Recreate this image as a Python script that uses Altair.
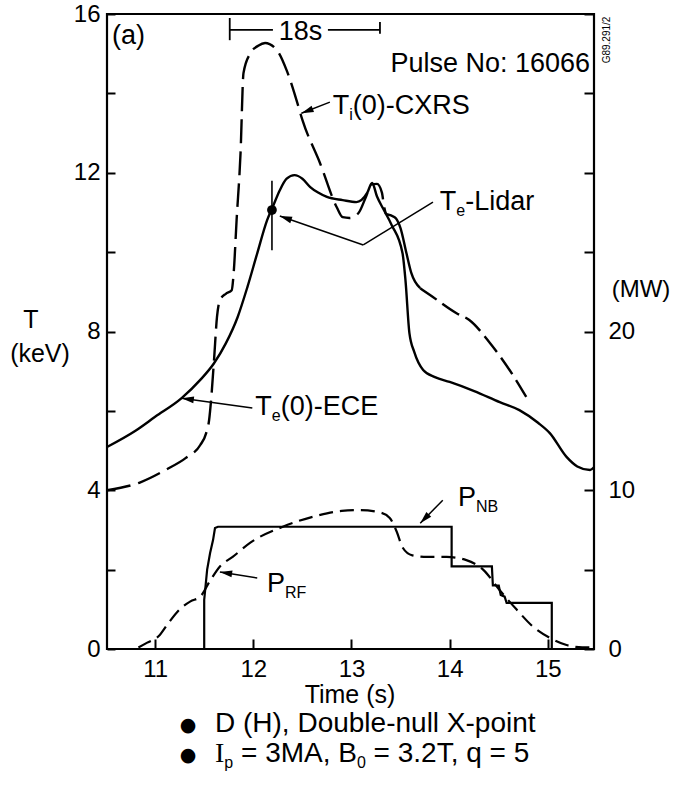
import math
import altair as alt
import pandas as pd

FONT = "Liberation Sans"

# ---------------- data ----------------
# Ti(0)-CXRS  [keV]
ti_t = [10.51, 10.85, 11.12, 11.31, 11.46, 11.52, 11.55, 11.57, 11.60, 11.63, 11.66, 11.72, 11.78, 11.80,
        11.83, 11.87, 11.90, 11.97, 12.05, 12.12, 12.24, 12.34, 12.44, 12.50, 12.68, 12.85, 12.91, 12.98,
        13.07, 13.15, 13.20, 13.26, 13.31, 13.33, 13.35, 13.44, 13.50, 13.56, 13.61, 13.70, 13.80, 14.07,
        14.20, 14.41, 14.61, 14.78]
ti_T = [4.00, 4.20, 4.53, 4.81, 5.14, 5.44, 5.77, 6.27, 7.28, 8.36, 8.79, 8.95, 9.04, 9.47,
        10.81, 12.49, 14.51, 15.01, 15.20, 15.27, 15.09, 14.58, 13.83, 13.33, 12.24, 11.13, 10.88, 10.86,
        10.98, 11.41, 11.70, 11.72, 11.50, 11.18, 10.96, 10.88, 10.60, 9.97, 9.47, 9.09, 8.92, 8.46,
        8.29, 7.71, 7.03, 6.35]

# Te(0)-ECE  [keV]
te_t = [10.51, 10.80, 11.00, 11.27, 11.46, 11.60, 11.72, 11.84, 11.94, 12.04, 12.14, 12.20, 12.27, 12.34,
        12.42, 12.50, 12.58, 12.66, 12.75, 12.91, 13.05, 13.16, 13.21, 13.26, 13.33, 13.41, 13.52, 13.55,
        13.59, 13.64, 13.73, 13.85, 14.00, 14.25, 14.51, 14.71, 14.90, 15.02, 15.19, 15.30, 15.43, 15.47]
te_T = [5.09, 5.50, 5.85, 6.32, 6.78, 7.20, 7.70, 8.36, 9.12, 9.97, 10.80, 11.15, 11.56, 11.85,
        11.94, 11.85, 11.64, 11.50, 11.39, 11.31, 11.26, 11.49, 11.74, 11.40, 11.06, 10.68, 9.97, 9.29,
        7.96, 7.48, 7.03, 6.85, 6.73, 6.50, 6.22, 6.02, 5.70, 5.44, 4.84, 4.60, 4.51, 4.58]

# Te-Lidar point with error bar [keV]
lidar_t = [12.19]
lidar_T = [11.06]
lidar_lo = [10.05]
lidar_hi = [11.80]

# P_NB [MW]
nb_t = [11.50, 11.50, 11.53, 11.56, 11.59, 11.61, 11.64, 14.02, 14.02, 14.43, 14.44, 14.50, 14.52,
        14.56, 14.58, 15.04, 15.04]
nb_P = [0.0, 3.1, 5.0, 6.05, 6.86, 7.62, 7.7, 7.7, 5.2, 5.2, 4.0, 4.0, 3.4, 3.3, 2.9, 2.9, 0.0]

# P_RF [MW]
rf_t = [10.83, 10.92, 11.05, 11.12, 11.25, 11.36, 11.46, 11.56, 11.66, 11.79, 11.97, 12.30, 12.65,
        12.90, 13.09, 13.29, 13.39, 13.46, 13.52, 13.62, 13.77, 13.97, 14.17, 14.34, 14.51, 14.68,
        14.85, 15.02, 15.19, 15.35, 15.47]
rf_P = [0.1, 0.4, 0.9, 1.5, 2.5, 3.0, 3.3, 4.3, 5.2, 5.8, 6.7, 7.7, 8.4, 8.7, 8.75, 8.6, 8.25, 7.4,
        6.4, 5.9, 5.8, 5.8, 5.6, 5.0, 3.7, 2.5, 1.4, 0.7, 0.25, 0.1, 0.1]

# axis ticks / labels
x_ticks = [11, 12, 13, 14, 15]
t_ticks = [0, 2, 4, 6, 8, 10, 12, 14, 16]     # labelled every 4 keV
mw_ticks = [0, 5, 10, 15, 20, 25, 30, 35, 40]  # labelled 0, 10, 20

# arrows (tail -> tip) in (s, keV)
arrow_t1 = [12.78, 13.12, 11.99, 13.93, 12.04]
arrow_T1 = [13.78, 10.18, 6.07, 3.75, 1.79]
arrow_t2 = [12.49, 12.27, 11.27, 13.70, 11.66]
arrow_T2 = [13.50, 10.91, 6.32, 3.17, 1.94]
# plain leader line of the Te-Lidar label
lead_t1, lead_T1, lead_t2, lead_T2 = [13.83], [11.26], [13.12], [10.18]

# "18s" scale bar
bar_t1 = [11.76, 12.76]
bar_t2 = [12.20, 13.29]
bar_T = [15.6, 15.6]
cap_t = [11.76, 13.29]
cap_lo = [15.34, 15.50]
cap_hi = [15.90, 15.80]

# ---------------- geometry ----------------
X0, X1 = 10.51, 15.47
W, H = 487, 635
KX = W / (X1 - X0)
KY = H / 16.0

xs = alt.Scale(domain=[X0, X1], nice=False, zero=False)
ys = alt.Scale(domain=[0, 16], nice=False)
ps = alt.Scale(domain=[0, 40], nice=False)

WID = {' ': 278, '(': 333, ')': 333, ',': 278, '-': 333, '.': 278, '/': 278, ':': 278,
       '=': 584, 'A': 667, 'B': 667, 'C': 722, 'D': 722, 'E': 667, 'F': 611, 'H': 722, 'I': 278,
       'L': 556, 'M': 833, 'N': 722, 'P': 667, 'R': 722, 'S': 667, 'T': 611, 'X': 667, 'a': 556,
       'b': 556, 'd': 556, 'e': 556, 'i': 222, 'k': 500, 'l': 222, 'm': 833, 'n': 556, 'o': 556,
       'p': 556, 'q': 556, 'r': 333, 's': 500, 't': 278, 'u': 556}


def tw(s, fs):
    return sum(WID.get(c, 556) for c in s) * fs / 1000.0


def X(f='x'):
    return alt.X(f + ':Q', scale=xs, title=None)


def Y(f='y'):
    return alt.Y(f + ':Q', scale=ys, title=None)


def P(f='y'):
    return alt.Y(f + ':Q', scale=ps, title=None)


def rich(parts, x, y, fs=27, sfs=16, data=True, align='left'):
    layers = []
    dx = 0.0
    for p in parts:
        text, kind = p[0], p[1]
        font = p[2] if len(p) > 2 else FONT
        size = fs if kind == 'n' else sfs
        dy = 0 if kind == 'n' else 6
        lead = len(text) - len(text.lstrip(' '))
        dx += lead * 278 * size / 1000.0
        body = text.lstrip(' ')
        c = alt.Chart(pd.DataFrame({'x': [x], 'y': [y], 's': [body]})).mark_text(
            align=align, baseline='alphabetic', dx=round(dx, 1), dy=dy,
            fontSize=size, font=font, color='black')
        if data:
            c = c.encode(x=X(), y=Y(), text='s:N')
        else:
            c = c.encode(x=alt.value(x), y=alt.value(y), text='s:N')
        layers.append(c)
        w = tw(body, size)
        if font != FONT:
            w = 333 * size / 1000.0 * len(body)
        dx += w
    return layers


# ---------------- left (keV) layers ----------------
# axes are pulled inside the frame (negative offset) so that their ticks point inwards
te_df = pd.DataFrame({'x': te_t, 'y': te_T})
te_line = alt.Chart(te_df).mark_line(color='black', strokeWidth=2.4, interpolate='monotone').encode(
    x=alt.X('x:Q', scale=xs, title=None, axis=alt.Axis(
        values=x_ticks, ticks=True, tickSize=10, tickWidth=2, tickColor='black', offset=-10,
        domain=False, grid=False, labelFontSize=24, labelPadding=8, labelFlush=False, format='d')),
    y=alt.Y('y:Q', scale=ys, title=None, axis=alt.Axis(
        values=t_ticks, ticks=True, tickSize=8, tickWidth=2, tickColor='black', offset=-8,
        labelExpr="datum.value % 4 === 0 ? datum.label : ''",
        domain=False, grid=False, labelFontSize=24, labelPadding=7, format='d')),
    order=alt.Order('x:Q'))

ti_df = pd.DataFrame({'x': ti_t, 'y': ti_T})
ia = ti_t.index(13.35)
ib = ti_t.index(13.70)
ti_a = alt.Chart(ti_df.iloc[:ia + 1]).mark_line(
    color='black', strokeWidth=2.4, strokeDash=[24, 8], interpolate='monotone').encode(x=X(), y=Y())
ti_b = alt.Chart(ti_df.iloc[ia:ib + 1]).mark_line(
    color='black', strokeWidth=2.4, interpolate='monotone').encode(x=X(), y=Y())
ti_c = alt.Chart(ti_df.iloc[ib:]).mark_line(
    color='black', strokeWidth=2.4, strokeDash=[20, 7], interpolate='monotone').encode(x=X(), y=Y())

lid_df = pd.DataFrame({'x': lidar_t, 'y': lidar_T, 'lo': lidar_lo, 'hi': lidar_hi})
lid_bar = alt.Chart(lid_df).mark_rule(color='black', strokeWidth=1.6).encode(
    x=X(), y=Y('lo'), y2='hi:Q')
lid_dot = alt.Chart(lid_df).mark_point(filled=True, color='black', size=95, opacity=1).encode(
    x=X(), y=Y())

# 18 s bar
bar_df = pd.DataFrame({'x': bar_t1, 'x2': bar_t2, 'y': bar_T})
bar_h = alt.Chart(bar_df).mark_rule(color='black', strokeWidth=1.8).encode(x=X(), x2='x2:Q', y=Y())
cap_df = pd.DataFrame({'x': cap_t, 'lo': cap_lo, 'hi': cap_hi})
bar_v = alt.Chart(cap_df).mark_rule(color='black', strokeWidth=1.8).encode(x=X(), y=Y('lo'), y2='hi:Q')

# arrows
ang = [(math.degrees(math.atan2(-(b2 - b1) * KY, (a2 - a1) * KX)) + 360) % 360
       for a1, b1, a2, b2 in zip(arrow_t1, arrow_T1, arrow_t2, arrow_T2)]
arr_df = pd.DataFrame({'x': arrow_t1, 'y': arrow_T1, 'x2': arrow_t2, 'y2': arrow_T2, 'ang': ang})
shafts = alt.Chart(arr_df).mark_rule(color='black', strokeWidth=1.5).encode(
    x=X(), y=Y(), x2='x2:Q', y2='y2:Q')
heads = alt.Chart(arr_df).mark_point(
    shape='M0,0L-2,-0.55L-2,0.55Z', filled=True, color='black', size=150, opacity=1, strokeWidth=0
).encode(x=X('x2'), y=Y('y2'), angle=alt.Angle('ang:Q', scale=None))
lead_df = pd.DataFrame({'x': lead_t1, 'y': lead_T1, 'x2': lead_t2, 'y2': lead_T2})
lead = alt.Chart(lead_df).mark_rule(color='black', strokeWidth=1.5).encode(
    x=X(), y=Y(), x2='x2:Q', y2='y2:Q')

# texts inside the plot
texts = []
texts += rich([('(a)', 'n')], 10.56, 15.24)
texts += rich([('Pulse No: 16066', 'n')], 15.43, 14.54, align='right')
texts.append(alt.Chart(pd.DataFrame({'x': [12.48], 'y': [15.34], 's': ['18s']})).mark_text(
    align='center', baseline='alphabetic', fontSize=27, font=FONT, color='black').encode(
    x=X(), y=Y(), text='s:N'))
texts += rich([('T', 'n'), ('i', 's'), ('(0)-CXRS', 'n')], 12.81, 13.48)
texts += rich([('T', 'n'), ('e', 's'), ('-Lidar', 'n')], 13.90, 11.06)
texts += rich([('T', 'n'), ('e', 's'), ('(0)-ECE', 'n')], 12.02, 5.90)
texts += rich([('P', 'n'), ('NB', 's')], 14.085, 3.60)
texts += rich([('P', 'n'), ('RF', 's')], 12.14, 1.44)


# texts outside the plot (pixel positions relative to the plot area)
def ptext(s, x, y, fs, align='center', font=FONT, angle=0, baseline='alphabetic'):
    return alt.Chart(pd.DataFrame({'s': [s]})).mark_text(
        align=align, baseline=baseline, fontSize=fs, font=font, angle=angle, color='black').encode(
        x=alt.value(x), y=alt.value(y), text='s:N')


outside = [
    ptext('Time (s)', 243, 689, 25),
    ptext('T', -76, 314, 25),
    ptext('(keV)', -67, 348, 25),
    ptext('(MW)', W + 47, 283, 24),
    ptext('G89.291/2', 500, 26, 10, angle=270, baseline='middle'),
]
for yy in (711, 741):
    outside.append(ptext('●', 81, yy, 19, font='DejaVu Sans', baseline='middle'))
outside += rich([('D (H), Double-null X-point', 'n')], 108, 718, fs=28, data=False)
outside += rich([('I', 'n', 'Liberation Serif'), ('p', 's'), (' = 3MA, B', 'n'),
                 ('0', 's'), (' = 3.2T, q = 5', 'n')], 108, 748, fs=28, data=False)

left = alt.layer(te_line, ti_a, ti_b, ti_c, lid_bar, lid_dot,
                 bar_h, bar_v, shafts, lead, heads, *texts, *outside)

# ---------------- right (MW) layers ----------------
nb_df = pd.DataFrame({'x': nb_t, 'y': nb_P, 'i': list(range(len(nb_t)))})
nb_line = alt.Chart(nb_df).mark_line(color='black', strokeWidth=2.2).encode(
    x=X(),
    y=alt.Y('y:Q', scale=ps, title=None, axis=alt.Axis(
        orient='right', values=mw_ticks, ticks=True, tickSize=10, tickWidth=2, tickColor='black',
        offset=-10, labelExpr="datum.value % 10 === 0 && datum.value <= 20 ? datum.label : ''",
        domain=False, grid=False, labelFontSize=24, labelPadding=14, format='d')),
    order=alt.Order('i:Q'))
rf_line = alt.Chart(pd.DataFrame({'x': rf_t, 'y': rf_P})).mark_line(
    color='black', strokeWidth=2.2, strokeDash=[14, 7], interpolate='monotone').encode(x=X(), y=P())

right = alt.layer(nb_line, rf_line)

chart = alt.layer(left, right).resolve_scale(y='independent').properties(
    width=W, height=H,
    autosize=alt.AutoSizeParams(type='none'),
    padding={'left': 107, 'top': 14, 'right': 86, 'bottom': 140},
    background='white'
).configure_view(stroke='black', strokeWidth=2.2).configure_axis(
    labelFont=FONT, titleFont=FONT, labelColor='black', titleColor='black',
    titleFontWeight='normal', labelOverlap=False)

chart.save("out.html", embed_options={"renderer": "svg", "actions": False})
